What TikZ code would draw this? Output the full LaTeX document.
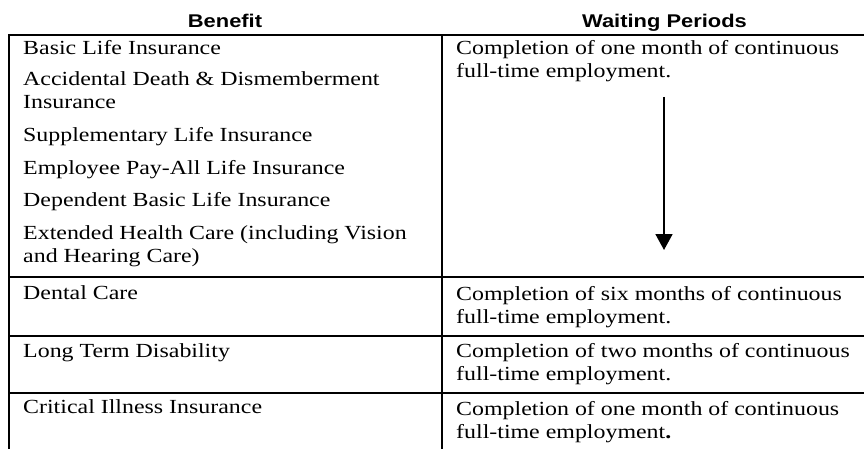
\documentclass[tikz,border=0pt]{standalone}
\usepackage{fontspec}
\setmainfont{Liberation Serif}[FakeStretch=1.195]
\newfontfamily\headfont{Liberation Sans}[FakeStretch=1.19]
\usetikzlibrary{arrows.meta}

% two lines of a cell, baseline on the first one
\newcommand{\twolines}[2]{\vtop{\hbox{#1}\hbox{#2}}}

\begin{document}
\begin{tikzpicture}[x=1pt,y=-1pt,
        rule/.style={line width=2pt},
        cell/.style={anchor=base west, inner sep=0pt, font=\fontsize{20}{23}\selectfont},
        head/.style={anchor=base, inner sep=0pt, font=\headfont\bfseries\fontsize{18.4}{21}\selectfont}]
    \useasboundingbox (0,0) rectangle (864,449);

    % table frame
    \draw[rule] (9,449) -- (9,35) -- (864,35);
    \draw[rule] (442,35) -- (442,449);
    \foreach \y in {277,336,393}
        \draw[rule] (9,\y) -- (864,\y);

    % headings
    \node[head] (benefit) at (225,27.5) {Benefit};
    \node[head] (waiting) at (664.5,27.5) {Waiting Periods};

    % benefits
    \node[cell] (basic) at (23,55) {Basic Life Insurance};
    \node[cell] (accident) at (23,86) {\twolines{Accidental Death \& Dismemberment}{Insurance}};
    \node[cell] (suppl) at (23,142) {Supplementary Life Insurance};
    \node[cell] (payall) at (23,175) {Employee Pay-All Life Insurance};
    \node[cell] (depend) at (23,206) {Dependent Basic Life Insurance};
    \node[cell] (health) at (23,239) {\twolines{Extended Health Care (including Vision}{and Hearing Care)}};
    \node[cell] (dental) at (23,299) {Dental Care};
    \node[cell] (ltd) at (23,357) {Long Term Disability};
    \node[cell] (critical) at (23,413) {Critical Illness Insurance};

    % waiting periods
    \node[cell] (wone) at (456,54.5) {\twolines{Completion of one month of continuous}{full-time employment.}};
    \node[cell] (wsix) at (456,300) {\twolines{Completion of six months of continuous}{full-time employment.}};
    \node[cell] (wtwo) at (456,357) {\twolines{Completion of two months of continuous}{full-time employment.}};
    \node[cell] (wcrit) at (456,415) {\twolines{Completion of one month of continuous}{full-time employment\textbf{.}}};

    % arrow
    \coordinate (arrtop) at (664,97);
    \coordinate (arrtip) at (664,250);
    \draw[line width=1.8pt, -{Triangle[width=17pt,length=16pt]}] (arrtop) -- (arrtip);
\end{tikzpicture}
\end{document}
